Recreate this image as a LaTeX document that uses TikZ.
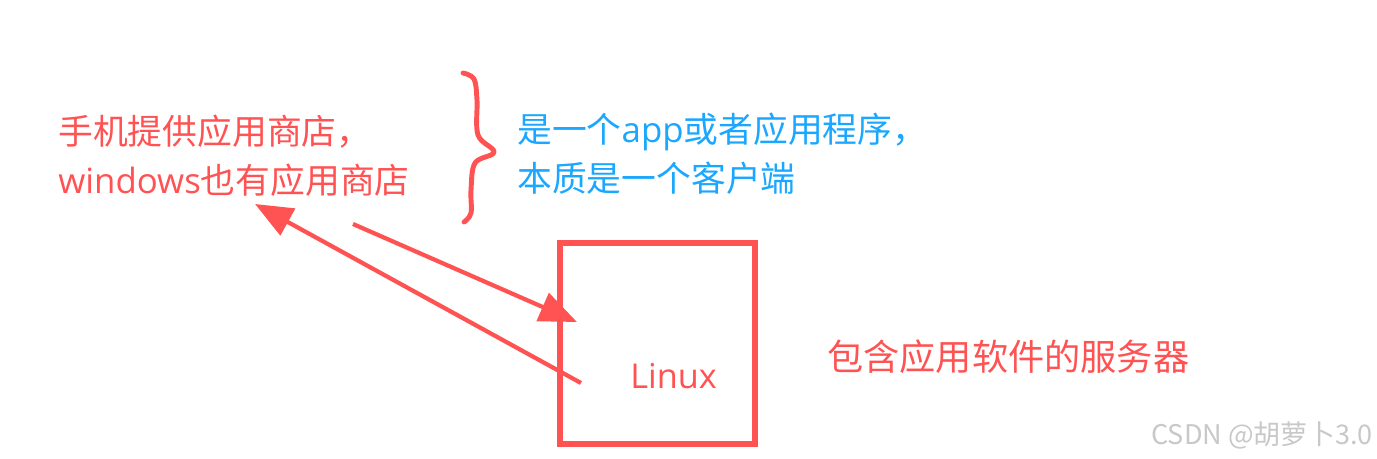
\documentclass[tikz,border=0pt]{standalone}
\usepackage{fontspec}
\usetikzlibrary{positioning,arrows.meta,calc}
\newfontfamily\cjk{Noto Sans CJK SC}
\newfontfamily\lat{Open Sans}
\definecolor{cRed}{HTML}{FF5252}
\definecolor{cBlue}{HTML}{1AA7FF}
\definecolor{cMark}{HTML}{C8C8C8}

\begin{document}
\begin{tikzpicture}[
    x=0.2mm, y=-0.2mm,
    font=\cjk,
    note/.style={align=left, inner sep=0pt, anchor=west, font=\cjk\fontsize{19.8}{27.8}\selectfont},
    srv/.style={draw=cRed, line width=3.4pt, minimum width=39.1mm, minimum height=40.2mm, inner sep=0pt},
    arr/.style={-{Triangle[length=7.5mm, width=6mm]}, line width=2.4pt, cRed},
    brace/.style={cRed, line width=2.8pt, line cap=round, line join=round}
]
\useasboundingbox (0,0) rectangle (1377,458);

\node[note, text=cRed] (store) at (58,156) {手机提供应用商店，\\{\lat windows}也有应用商店};
\node[note, text=cBlue] (client) at (517,154) {是一个{\lat app}或者应用程序，\\本质是一个客户端};
\node[srv] (server) at (657.7,343.5) {};
\node[anchor=west, inner sep=0pt, text=cRed, font=\lat\fontsize{19.5}{23}\selectfont] (linux) at (630,376) {Linux};
\node[anchor=west, inner sep=0pt, text=cRed, font=\cjk\fontsize{20.6}{24}\selectfont] (desc) at (827,357) {包含应用软件的服务器};
\node[anchor=east, inner sep=0pt, text=cMark, font=\cjk\fontsize{15.4}{18}\selectfont] (mark) at (1373,435) {CSDN @胡萝卜3.0};

% brace between the two notes
\draw[brace] plot[smooth, tension=0.6] coordinates {(463,73) (474,79) (477,100) (478,135) (494,152) (475,163) (471,190) (471,213) (464,222)};

% request and download
\coordinate (upS) at (353,224);
\coordinate (upE) at (577,322);
\coordinate (dnS) at (581,383);
\coordinate (dnE) at (255,204);
\draw[arr] (upS) -- (upE);
\draw[arr] (dnS) -- (dnE);
\end{tikzpicture}
\end{document}
